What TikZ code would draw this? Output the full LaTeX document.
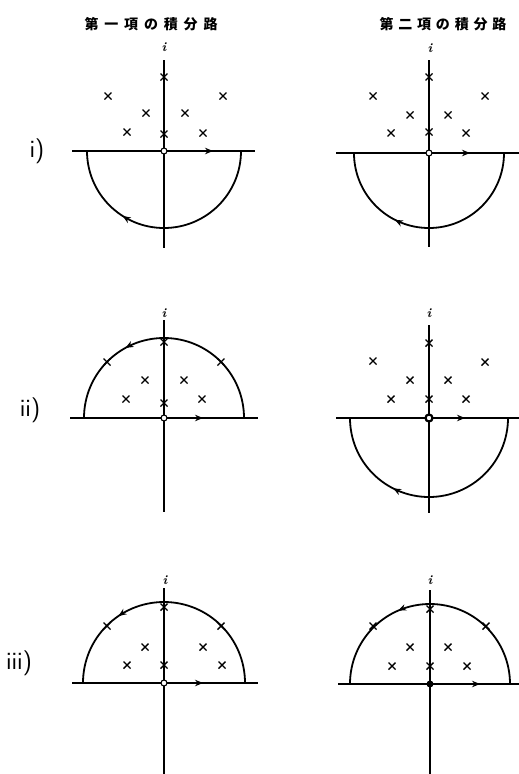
\documentclass[tikz,border=0pt]{standalone}
\usepackage{fontspec}
\newfontfamily\jpfont{Noto Sans CJK JP}
\usetikzlibrary{arrows.meta,decorations.markings}
\tikzset{
  ax/.style={line width=1.7pt, black},
  contour/.style={line width=1.8pt, black},
  crs/.style={line width=1.4pt, black},
  axtip/.style={-{Stealth[length=8pt,width=6.5pt]}, line width=1.7pt},
  lbl/.style={inner sep=0pt, font=\bfseries\itshape\fontsize{13}{13}\selectfont},
  num/.style={inner sep=0pt, font=\sffamily\fontsize{25}{25}\selectfont},
  ttl/.style={inner sep=0pt, font=\jpfont\bfseries\fontsize{14}{14}\selectfont},
  mk/.style={postaction={decorate}, decoration={markings, mark=at position #1 with {\arrow{Stealth[length=8pt,width=6.5pt]}}}},
  opn/.style={circle, draw, line width=1.1pt, fill=white, minimum size=6pt, inner sep=0pt},
  bld/.style={circle, draw, line width=2.2pt, fill=white, minimum size=7pt, inner sep=0pt},
  fld/.style={circle, fill=black, minimum size=7pt, inner sep=0pt}
}
\newcommand\crs[2]{\draw[crs] (#1-3.5,-#2-3.5) -- (#1+3.5,-#2+3.5) (#1-3.5,-#2+3.5) -- (#1+3.5,-#2-3.5);}
\begin{document}
\begin{tikzpicture}[x=1pt,y=1pt]
\useasboundingbox (0,0) rectangle (519,-774);
\fill[white] (0,0) rectangle (519,-774);
% titles
\node[ttl] (t1) at (151,-24) {\makebox[133pt][s]{第\hfil 一\hfil 項\hfil の\hfil 積\hfil 分\hfil 路}};
\node[ttl] (t2) at (443,-24) {\makebox[127pt][s]{第\hfil 二\hfil 項\hfil の\hfil 積\hfil 分\hfil 路}};
% row labels
\node[num] (r1) at (37,-151) {i)};
\node[num] (r2) at (30,-410) {ii)};
\node[num] (r3) at (19,-663) {iii)};

% ---------- panel i left
\node[lbl] (a1) at (164,-47) {i};
\draw[ax] (72,-151) -- (255,-151);
\draw[ax] (164,-60) -- (164,-248);
\draw[axtip] (200,-151) -- (213,-151);
\draw[contour, mk=0.68] (241,-151) arc[start angle=0, end angle=-180, radius=77];
\foreach \p/\q in {108/96,146/113,127/132,164/77,164/134,185/113,203/133,223/96} {\crs{\p}{\q}}
\node[opn] (o1) at (164,-151) {};

% ---------- panel i right
\node[lbl] (a2) at (430,-48) {i};
\draw[ax] (336,-153) -- (519,-153);
\draw[ax] (429,-60) -- (429,-247);
\draw[axtip] (457,-153) -- (470,-153);
\draw[contour, mk=0.65] (504,-153) arc[start angle=0, end angle=-180, radius=75];
\foreach \p/\q in {373/96,410/115,391/133,429/77,429/132,448/115,466/133,485/96} {\crs{\p}{\q}}
\node[opn] (o2) at (429,-153) {};

% ---------- panel ii left
\node[lbl] (a3) at (164,-313) {i};
\draw[ax] (70,-418) -- (258,-418);
\draw[ax] (164,-320) -- (164,-512);
\draw[axtip] (190,-418) -- (203,-418);
\draw[contour, mk=0.66] (244,-418) arc[start angle=0, end angle=180, radius=80];
\foreach \p/\q in {164/342,164/403,145/380,126/399,184/380,202/399,221/362,107/362} {\crs{\p}{\q}}
\node[opn] (o3) at (164,-418) {};

% ---------- panel ii right
\node[lbl] (a4) at (429,-313) {i};
\draw[ax] (336,-418) -- (519,-418);
\draw[ax] (429,-325) -- (429,-513);
\draw[axtip] (452,-418) -- (465,-418);
\draw[contour, mk=0.65] (508,-418) arc[start angle=0, end angle=-180, radius=79];
\foreach \p/\q in {429/343,429/399,373/361,410/380,391/399,448/380,466/399,485/362} {\crs{\p}{\q}}
\node[bld] (o4) at (429,-418) {};

% ---------- panel iii left
\node[lbl] (a5) at (165,-580) {i};
\draw[ax] (72,-683) -- (258,-683);
\draw[ax] (164,-588) -- (164,-774);
\draw[axtip] (190,-683) -- (203,-683);
\draw[contour, mk=0.69] (245,-683) arc[start angle=0, end angle=180, radius=81];
\foreach \p/\q in {164/607,164/665,145/647,127/665,203/647,222/665,107/626,221/626} {\crs{\p}{\q}}
\node[opn] (o5) at (164,-683) {};

% ---------- panel iii right
\node[lbl] (a6) at (430,-580) {i};
\draw[ax] (338,-684) -- (519,-684);
\draw[ax] (430,-590) -- (430,-774);
\draw[axtip] (467,-684) -- (480,-684);
\draw[contour, mk=0.63] (510,-684) arc[start angle=0, end angle=180, radius=80];
\foreach \p/\q in {430/609,430/666,410/647,392/666,448/647,467/666,373/626,486/626} {\crs{\p}{\q}}
\node[fld] (o6) at (430,-684) {};
\end{tikzpicture}
\end{document}
